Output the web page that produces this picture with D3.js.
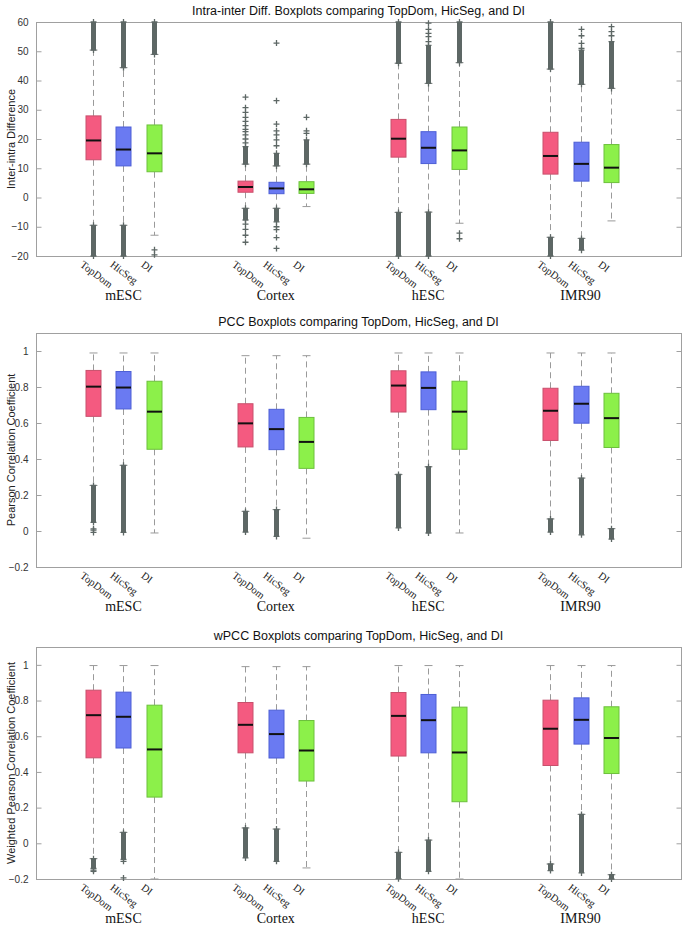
<!DOCTYPE html>
<html><head><meta charset="utf-8">
<script src="https://cdn.jsdelivr.net/npm/d3@7"></script>
<style>body{margin:0;background:#fff}svg{display:block}</style>
</head><body>
<script>
// ---------- data ----------
const groups = ["mESC", "Cortex", "hESC", "IMR90"];
const methods = ["TopDom", "HicSeg", "DI"];

// Panel 1: Intra-inter difference (order: group x method)
const diffQ3  = [27.9, 24.1, 24.8, 5.6, 5.2, 5.4, 26.7, 22.5, 24.1, 22.3, 18.9, 18.1];
const diffMed = [19.5, 16.4, 15.1, 3.6, 3.1, 2.8, 20.1, 17.0, 16.1, 14.2, 11.5, 10.2];
const diffQ1  = [12.9, 10.8, 8.8, 1.8, 1.3, 1.4, 13.8, 11.6, 9.6, 8.0, 5.6, 5.1];
const diffHi  = [50.4, 44.4, 48.9, 11.4, 10.8, 11.4, 45.9, 39.0, 46.1, 43.9, 38.7, 37.3];
const diffLo  = [-9.5, -9.5, -12.9, -3.7, -3.7, -3.1, -5.1, -5.0, -8.8, -13.6, -14.0, -8.0];
const diffBands = [
  [[50.4, 60], [-20, -9.5]], [[44.4, 60], [-20, -9.5]], [[48.9, 60]],
  [[11.4, 17.4], [-7.7, -3.7]], [[10.8, 15.1], [-8.3, -3.7]], [[11.4, 19.7]],
  [[45.9, 60], [-20, -5.1]], [[39.0, 52.0], [-20, -5.0]], [[46.1, 60]],
  [[43.9, 60], [-20, -13.6]], [[38.7, 50.4], [-18, -14.0]], [[37.3, 53.3]]
];
const diffPoints = [
  [], [], [-17.9, -19.6],
  [34.3, 30.7, 29.1, 27.4, 26.0, 24.6, 23.3, 22.5, 21.4, 20.0, 18.7, -9.1, -10.9, -12.9, -15.3],
  [52.8, 33.1, 25.1, 22.8, 21.4, 19.7, 17.7, -10.0, -11.0, -13.7, -17.4],
  [27.4, 22.8, 21.9],
  [], [53.3, 55.0, 56.1, 57.5, 59.6], [-12.2, -14.1],
  [], [57.5, 55.3, 52.7, 51.0], [58.4, 56.7, 55.3]
];
const diffTicks = [-20, -10, 0, 10, 20, 30, 40, 50, 60];

// Panel 2: PCC
const pccQ3  = [0.892, 0.886, 0.832, 0.707, 0.676, 0.631, 0.890, 0.884, 0.832, 0.793, 0.804, 0.765];
const pccMed = [0.802, 0.797, 0.663, 0.598, 0.566, 0.495, 0.808, 0.795, 0.663, 0.668, 0.707, 0.627];
const pccQ1  = [0.637, 0.678, 0.454, 0.467, 0.452, 0.348, 0.661, 0.674, 0.454, 0.503, 0.599, 0.464];
const pccHi  = [0.989, 0.989, 0.989, 0.974, 0.974, 0.974, 0.989, 0.989, 0.989, 0.989, 0.989, 0.989];
const pccLo  = [0.253, 0.365, -0.011, 0.109, 0.119, -0.040, 0.314, 0.357, -0.011, 0.067, 0.294, 0.013];
const pccBands = [
  [[0.048, 0.253]], [[-0.008, 0.365]], [],
  [[-0.006, 0.109]], [[-0.030, 0.119]], [],
  [[0.017, 0.314]], [[-0.011, 0.357]], [],
  [[-0.006, 0.067]], [[-0.021, 0.294]], [[-0.045, 0.013]]
];
const pccPoints = [[0.012, 0.005, -0.008], [], [], [], [], [], [], [], [], [], [], []];
const corrTicks = [-0.2, 0, 0.2, 0.4, 0.6, 0.8, 1];

// Panel 3: wPCC
const wpccQ3  = [0.858, 0.847, 0.774, 0.789, 0.746, 0.688, 0.845, 0.834, 0.763, 0.802, 0.815, 0.765];
const wpccMed = [0.718, 0.709, 0.526, 0.664, 0.612, 0.520, 0.714, 0.690, 0.509, 0.642, 0.692, 0.590];
const wpccQ1  = [0.479, 0.534, 0.259, 0.507, 0.478, 0.349, 0.489, 0.507, 0.233, 0.436, 0.556, 0.391];
const wpccHi  = [0.996, 0.996, 0.996, 0.990, 0.990, 0.990, 0.996, 0.996, 0.996, 0.996, 0.996, 0.996];
const wpccLo  = [-0.086, 0.061, -0.200, 0.086, 0.080, -0.138, -0.051, 0.018, -0.200, -0.116, 0.162, -0.176];
const wpccBands = [
  [[-0.140, -0.086]], [[-0.090, 0.061]], [],
  [[-0.082, 0.086]], [[-0.101, 0.080]], [],
  [[-0.198, -0.051]], [[-0.157, 0.018]], [],
  [[-0.153, -0.116]], [[-0.166, 0.162]], [[-0.200, -0.176]]
];
const wpccPoints = [[-0.150, -0.157], [-0.101, -0.194], [], [], [], [], [], [], [], [], [], []];

// ---------- drawing ----------
const W = 687, H = 930;
const svg = d3.select("body").append("svg").attr("width", W).attr("height", H);
const fills = ["#f45a80", "#6a7af2", "#8cf04a"];
const strokes = ["#c8506c", "#4d5fd6", "#6cc03c"];
const outCol = "#5d6765";
const frameCol = "#a0a0a0";
const left = 36, right = 681;
const slots = [];
groups.forEach((g, gi) => methods.forEach((m, mi) => slots.push({g: gi, m: mi, slot: gi * 5 + mi + 1})));
const x = d3.scaleLinear().domain([1, 18]).range([93, 611]);
const boxW = 15;

function panel(o) {
  const y = d3.scaleLinear().domain(o.domain).range([o.bottom, o.top]);
  const g = svg.append("g");
  // frame
  g.append("rect").attr("x", left + 0.5).attr("y", o.top + 0.5)
    .attr("width", right - left).attr("height", o.bottom - o.top)
    .attr("fill", "none").attr("stroke", frameCol).attr("stroke-width", 1);
  // left axis
  const ax = g.append("g").attr("transform", `translate(${left + 0.5},0)`)
    .call(d3.axisLeft(y).tickValues(o.ticks).tickSize(-5).tickPadding(8).tickFormat(d3.format("")));
  ax.select(".domain").remove();
  ax.selectAll("line").attr("stroke", frameCol);
  ax.selectAll("text").attr("font-family", "Liberation Sans, Arial, sans-serif")
    .attr("font-size", 10).attr("fill", "#333");
  // right ticks
  const ax2 = g.append("g").attr("transform", `translate(${right + 0.5},0)`)
    .call(d3.axisRight(y).tickValues(o.ticks).tickSize(-5).tickFormat(""));
  ax2.select(".domain").remove();
  ax2.selectAll("line").attr("stroke", frameCol);
  // title
  g.append("text").attr("x", (left + right) / 2).attr("y", o.top - 7)
    .attr("text-anchor", "middle").attr("font-family", "Liberation Sans, Arial, sans-serif")
    .attr("font-size", 12.5).attr("fill", "#111").text(o.title);
  // y label
  g.append("text").attr("transform", `translate(15,${(o.top + o.bottom) / 2}) rotate(-90)`)
    .attr("text-anchor", "middle").attr("font-family", "Liberation Sans, Arial, sans-serif")
    .attr("font-size", 11).attr("fill", "#222").text(o.ylabel);

  slots.forEach((s, i) => {
    const cx = Math.round(x(s.slot)) + 0.5;
    const bg = g.append("g");
    // whiskers
    [[o.q3[i], o.hi[i]], [o.q1[i], o.lo[i]]].forEach(([a, b]) => {
      bg.append("line").attr("x1", cx).attr("x2", cx).attr("y1", y(a)).attr("y2", y(b))
        .attr("stroke", "#9a9a9a").attr("stroke-dasharray", "6,4");
      bg.append("line").attr("x1", cx - 4).attr("x2", cx + 4).attr("y1", y(b)).attr("y2", y(b))
        .attr("stroke", "#9a9a9a");
    });
    // box
    bg.append("rect").attr("x", cx - boxW / 2).attr("y", y(o.q3[i]))
      .attr("width", boxW).attr("height", y(o.q1[i]) - y(o.q3[i]))
      .attr("fill", fills[s.m]).attr("stroke", strokes[s.m]).attr("stroke-width", 1);
    bg.append("line").attr("x1", cx - boxW / 2).attr("x2", cx + boxW / 2)
      .attr("y1", y(o.med[i])).attr("y2", y(o.med[i]))
      .attr("stroke", "#111").attr("stroke-width", 2);
    // dense outlier bands
    o.bands[i].forEach(([a, b]) => {
      bg.append("rect").attr("x", cx - 2.5).attr("y", y(b)).attr("width", 5)
        .attr("height", Math.max(1, y(a) - y(b))).attr("fill", outCol);
      [a, b].forEach(v => plus(bg, cx, y(v)));
    });
    o.points[i].forEach(v => plus(bg, cx, y(v)));
    // method label
    g.append("text").attr("transform", `translate(${cx - 14},${o.bottom + 10}) rotate(37)`)
      .attr("font-family", "Liberation Serif, Times New Roman, serif").attr("font-size", 10.5)
      .attr("fill", "#222").text(methods[s.m]);
  });
  groups.forEach((gn, gi) => {
    g.append("text").attr("x", x(gi * 5 + 2)).attr("y", o.bottom + 44)
      .attr("text-anchor", "middle").attr("font-family", "Liberation Serif, Times New Roman, serif")
      .attr("font-size", 14).attr("fill", "#111").text(gn);
  });
}
function plus(sel, cx, cy) {
  sel.append("path").attr("d", `M${cx - 3},${cy}H${cx + 3}M${cx},${cy - 3}V${cy + 3}`)
    .attr("stroke", outCol).attr("stroke-width", 1.3);
}

panel({top: 22, bottom: 256, domain: [-20, 60], ticks: diffTicks,
  title: "Intra-inter Diff. Boxplots comparing TopDom, HicSeg, and DI", ylabel: "Inter-intra Difference",
  q3: diffQ3, med: diffMed, q1: diffQ1, hi: diffHi, lo: diffLo, bands: diffBands, points: diffPoints});
panel({top: 333, bottom: 567, domain: [-0.2, 1.1], ticks: corrTicks,
  title: "PCC Boxplots comparing TopDom, HicSeg, and DI", ylabel: "Pearson Correlation Coefficient",
  q3: pccQ3, med: pccMed, q1: pccQ1, hi: pccHi, lo: pccLo, bands: pccBands, points: pccPoints});
panel({top: 647, bottom: 879, domain: [-0.2, 1.1], ticks: corrTicks,
  title: "wPCC Boxplots comparing TopDom, HicSeg, and DI", ylabel: "Weighted Pearson Correlation Coefficient",
  q3: wpccQ3, med: wpccMed, q1: wpccQ1, hi: wpccHi, lo: wpccLo, bands: wpccBands, points: wpccPoints});
</script>
</body></html>
